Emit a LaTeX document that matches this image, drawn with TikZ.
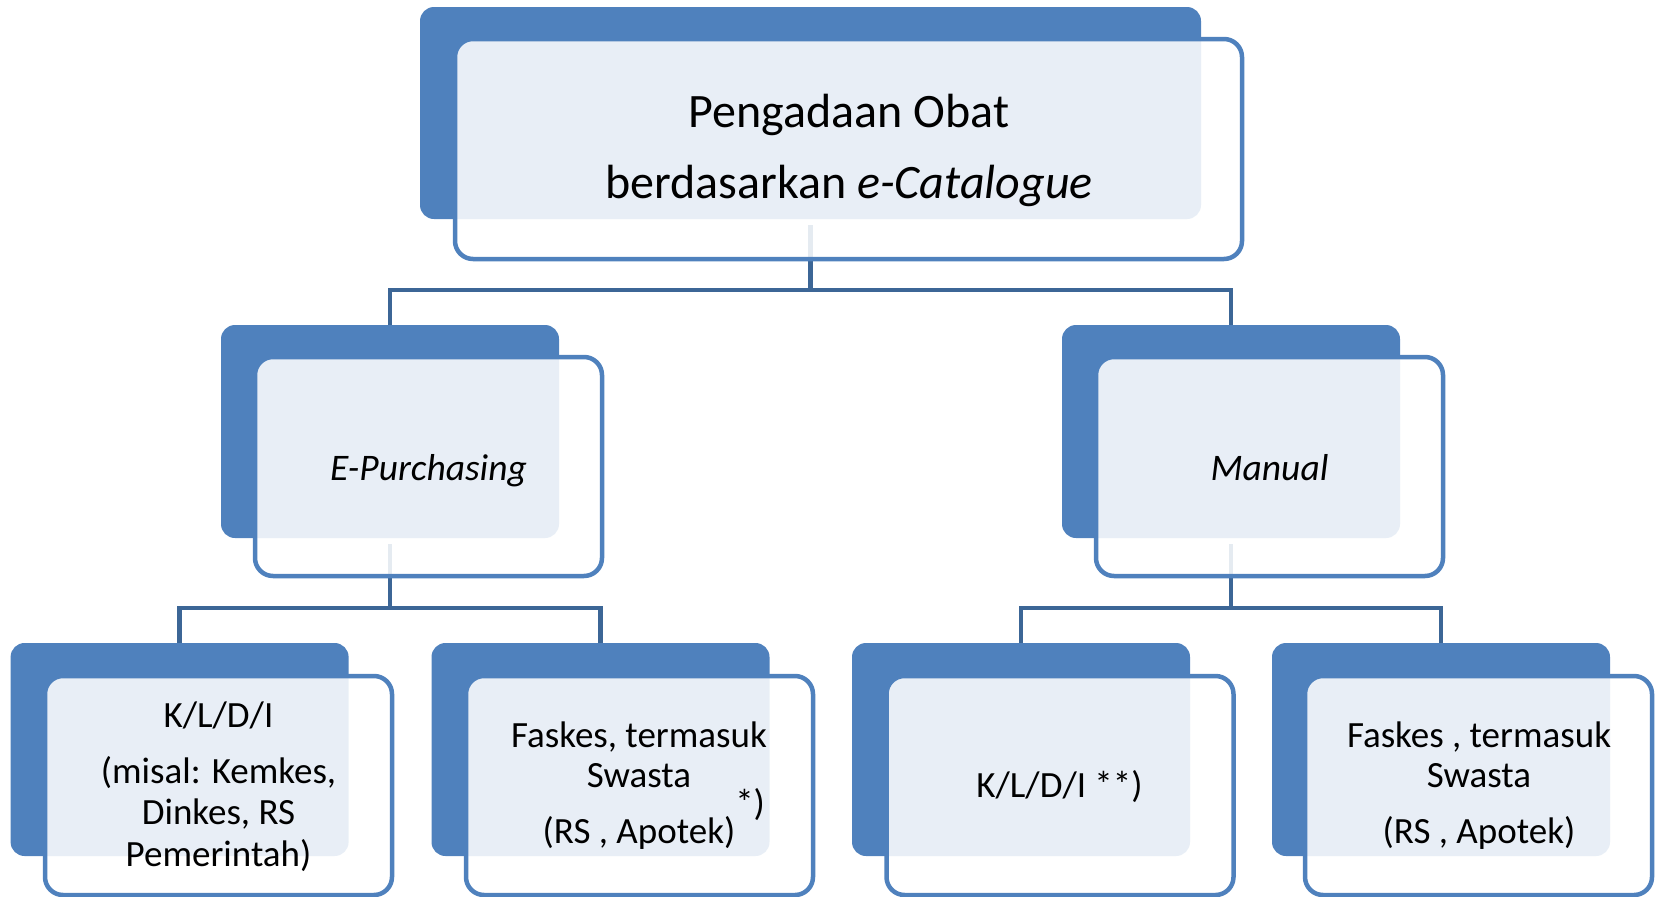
\documentclass[tikz,border=0pt]{standalone}
\usepackage{fontspec}
\setmainfont{Carlito}
\definecolor{accent}{HTML}{4F81BD}
\definecolor{connc}{HTML}{3C6696}
\begin{document}
\begin{tikzpicture}[x=1pt,y=-1pt,
  darkbox/.style={fill=accent, draw=none, rounded corners=14pt, anchor=north west, inner sep=0pt, outer sep=0pt, minimum width=338pt, minimum height=213pt},
  frontbox/.style={fill=white, fill opacity=0.87, draw=accent, draw opacity=1, line width=4.5pt, rounded corners=18pt, anchor=north west, inner sep=0pt, outer sep=0pt, minimum width=347pt, minimum height=219pt},
  conn/.style={draw=connc, line width=4.5pt},
  bigtxt/.style={anchor=base, inner sep=0pt, font=\fontsize{48}{52}\selectfont},
  midtxt/.style={anchor=base, inner sep=0pt, font=\fontsize{37.5}{40}\selectfont\itshape},
  smalltxt/.style={anchor=base, inner sep=0pt, font=\fontsize{37}{40}\selectfont}
]
\useasboundingbox (0,0) rectangle (1655,897);

% back (dark) boxes
\node[darkbox, minimum width=781pt, minimum height=212pt] (d0) at (420,7) {};
\node[darkbox] (dE) at (221,325) {};
\node[darkbox] (dM) at (1062,325) {};
\node[darkbox] (d1) at (10.6,643) {};
\node[darkbox] (d2) at (431.5,643) {};
\node[darkbox] (d3) at (852,643) {};
\node[darkbox] (d4) at (1272,643) {};

% connectors
\coordinate (j0) at (810.5,290);
\coordinate (jE) at (390,608);
\coordinate (jM) at (1231,608);
\draw[conn] ([yshift=-6pt]d0.south) -- (j0) -| (dE.north);
\draw[conn] (j0) -| (dM.north);
\draw[conn] ([yshift=-6pt]dE.south) -- (jE) -| (d1.north);
\draw[conn] (jE) -| (d2.north);
\draw[conn] ([yshift=-6pt]dM.south) -- (jM) -| (d3.north);
\draw[conn] (jM) -| (d4.north);

% front boxes
\node[frontbox, minimum width=787pt, minimum height=220pt] (f0) at (455,39) {};
\node[frontbox] (fE) at (255,357) {};
\node[frontbox] (fM) at (1096,357) {};
\node[frontbox] (f1) at (45,676) {};
\node[frontbox] (f2) at (466,676) {};
\node[frontbox] (f3) at (886.5,676) {};
\node[frontbox] (f4) at (1305,676) {};

% texts
\node[bigtxt] (t0a) at (849,127) {Pengadaan Obat};
\node[bigtxt] (t0b) at (849,198) {berdasarkan \textit{e-Catalogue}};
\node[midtxt] (tE) at (428.5,480) {E-Purchasing};
\node[midtxt] (tM) at (1269.5,480) {Manual};

\node[smalltxt] (t1a) at (218.5,727) {K/L/D/I};
\node[smalltxt] (t1b) at (218.5,783) {(misal: Kemkes,};
\node[smalltxt] (t1c) at (218.5,824) {Dinkes, RS};
\node[smalltxt] (t1d) at (218.5,866) {Pemerintah)};

\node[smalltxt] (t2a) at (639,747) {Faskes, termasuk};
\node[smalltxt] (t2b) at (639,787) {Swasta};
\node[smalltxt] (t2c) at (639,843) {(RS , Apotek)\rlap{\raisebox{28pt}{*)}}};

\node[smalltxt] (t3a) at (1059.5,797) {K/L/D/I **)};

\node[smalltxt] (t4a) at (1479,747) {Faskes , termasuk};
\node[smalltxt] (t4b) at (1479,787) {Swasta};
\node[smalltxt] (t4c) at (1479,843) {(RS , Apotek)};
\end{tikzpicture}
\end{document}
